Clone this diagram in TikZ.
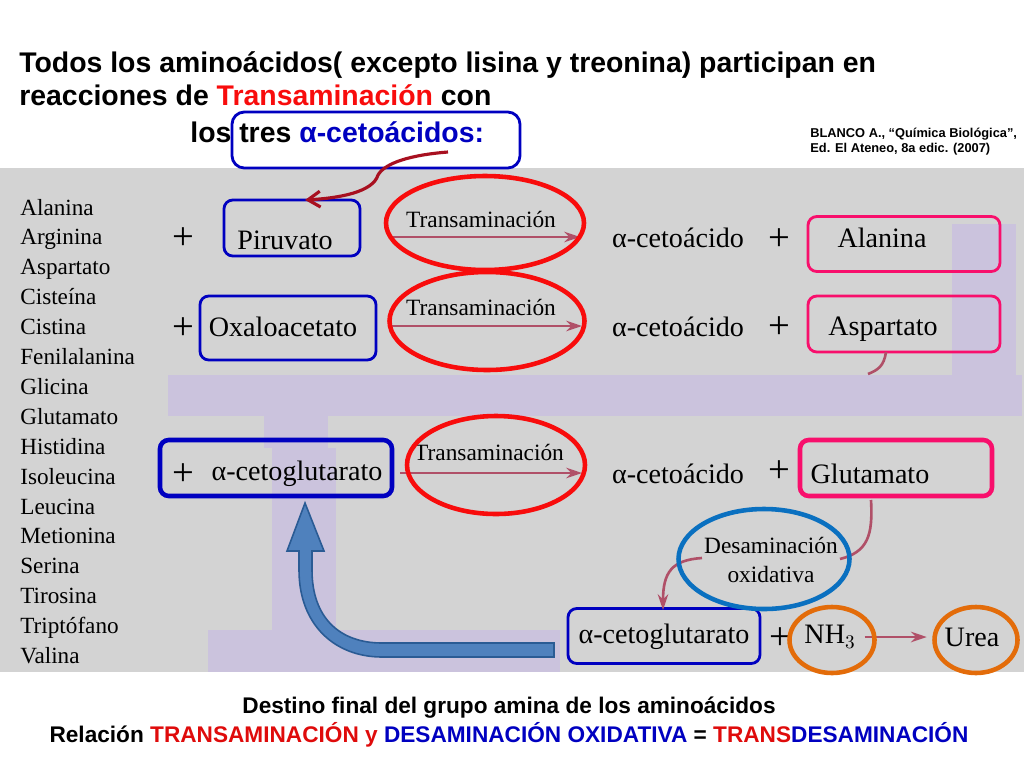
\documentclass[tikz,border=0pt]{standalone}
\usepackage{fontspec}
\setmainfont{Liberation Sans}
\newfontfamily\scanfont{Liberation Serif}
\usetikzlibrary{shapes.geometric,arrows.meta}
\definecolor{bandgray}{HTML}{D3D3D3}
\definecolor{lila}{HTML}{CBC3DD}
\definecolor{boxblue}{HTML}{0000C0}
\definecolor{rosa}{HTML}{F80F6C}
\definecolor{oval}{HTML}{F80C0C}
\definecolor{ovalblue}{HTML}{0A70C0}
\definecolor{ovalorange}{HTML}{E36C0A}
\definecolor{arrowred}{HTML}{A81020}
\definecolor{inkred}{HTML}{B05068}
\definecolor{fatblue}{HTML}{4F81BD}
\definecolor{fatedge}{HTML}{2A5B94}
\tikzset{
  headline/.style={font=\bfseries\fontsize{16.17}{19}\selectfont, anchor=base west, inner sep=0pt},
  footline/.style={font=\bfseries\fontsize{12.88}{15}\selectfont, anchor=base, inner sep=0pt},
  scan/.style={font=\scanfont\fontsize{16}{18}\selectfont, inner sep=0pt, text=black},
  small scan/.style={font=\scanfont\fontsize{13.3}{17}\selectfont, inner sep=0pt, text=black},
  plus/.style={font=\scanfont\fontsize{22}{24}\selectfont, inner sep=0pt, text=black},
  aminoname/.style={font=\scanfont\fontsize{13.2}{15}\selectfont, anchor=base west, inner sep=0pt, text=black},
  bluebox/.style={draw=boxblue, line width=1.6pt, rounded corners=5pt},
  rosebox/.style={draw=rosa, line width=1.6pt, rounded corners=5pt},
  redoval/.style={draw=oval, ellipse, line width=2.6pt, inner sep=0pt},
  inkline/.style={draw=inkred, line width=1.5pt, -{Stealth[length=9pt,width=6pt]}},
}
\begin{document}
\begin{tikzpicture}[x=0.02cm, y=-0.02cm]
\useasboundingbox (0,0) rectangle (1024,768);
% fondo
\fill[bandgray] (0,168) rectangle (1024,672);
\fill[lila] (952,224) rectangle (1016,375);
\fill[lila] (168,375) rectangle (1022,416);
\fill[lila] (264,416) rectangle (328,448);
\fill[lila] (272,448) rectangle (336,630);
\fill[lila] (208,630) rectangle (560,672);
% titulo
\node[headline] (linea1) at (19,72) {Todos los aminoácidos( excepto lisina y treonina) participan en};
\node[headline] (linea2) at (19,105) {reacciones de \textcolor{oval}{Transaminación} con};
\node[headline] (linea3) at (190,142) {los tres \textcolor{boxblue}{α-cetoácidos:}};
\node[anchor=base west, inner sep=0pt, align=left, font=\bfseries\fontsize{7.3}{8.5}\selectfont] (cita) at (810,152) {BLANCO A., “Química Biológica”,\\Ed. El Ateneo, 8a edic. (2007)};
\node[bluebox, rounded corners=7pt, inner sep=0pt, minimum width=288*0.02cm, minimum height=56*0.02cm] (cetobox) at (376,140) {};
% lista
\foreach \name [count=\i from 0] in {Alanina,Arginina,Aspartato,Cisteína,Cistina,Fenilalanina,Glicina,Glutamato,Histidina,Isoleucina,Leucina,Metionina,Serina,Tirosina,Triptófano,Valina}
{
    \node[aminoname] (amino\i) at (20,215+29.9*\i) {\name};
}
% columna izquierda
\node[plus] (mas1) at (183,239) {+};
\node[plus] (mas2) at (183,329) {+};
\node[plus] (mas3) at (183,475) {+};
\node[scan] (piruvato) at (285,240) {Piruvato};
\node[scan] (oxalo) at (283,327) {Oxaloacetato};
\node[bluebox, minimum width=136*0.02cm, minimum height=56*0.02cm] (piruvatobox) at (292,228) {};
\node[bluebox, minimum width=176*0.02cm, minimum height=64*0.02cm] (oxalobox) at (288,328) {};
\node[scan] (cetoglu) at (297,474) {α-cetoglutarato};
\node[bluebox, line width=2.6pt, minimum width=232*0.02cm, minimum height=56*0.02cm] (cetoglubox) at (276,468) {};
% transaminacion
\foreach \y/\tx/\ty/\ax/\bx/\ovx/\ovy/\ovw/\ovh [count=\i] in {237/481/219/390/580/485/223/198/94,326/481/307/390/582/487/321/195/98,473/489/452/400/582/496/465/178/98}
{
    \node[small scan] (trans\i) at (\tx,\ty) {Transaminación};
    \coordinate (ini\i) at (\ax,\y);
    \coordinate (fin\i) at (\bx,\y);
    \draw[inkline] (ini\i) -- (fin\i);
    \node[redoval, minimum width=\ovw*0.02cm, minimum height=\ovh*0.02cm] (oval\i) at (\ovx,\ovy) {};
    \node[scan] (ceto\i) at (678,\y+1) {α-cetoácido};
}
\node[plus] (masd1) at (779,240) {+};
\node[plus] (masd2) at (779,328) {+};
\node[plus] (masd3) at (779,472) {+};
% columna derecha
\node[scan] (alanina) at (882,238) {Alanina};
\node[scan] (aspartato) at (883,329) {Aspartato};
\node[scan] (glutamato) at (870,474) {Glutamato};
\node[rosebox, minimum width=192*0.02cm, minimum height=55*0.02cm] (alaninabox) at (904,244) {};
\node[rosebox, minimum width=192*0.02cm, minimum height=56*0.02cm] (aspartatobox) at (904,324) {};
\node[rosebox, line width=2.6pt, minimum width=192*0.02cm, minimum height=56*0.02cm] (glutamatobox) at (896,468) {};
% abajo
\node[small scan, align=center] (desa) at (771,560) {Desaminación\\oxidativa};
\node[scan] (cetoglub) at (664,637) {α-cetoglutarato};
\node[bluebox, minimum width=192*0.02cm, minimum height=55*0.02cm] (cetoglubbox) at (664,636) {};
\node[plus] (masb) at (780,639) {+};
\node[scan] (nh3) at (830,637) {NH$_3$};
\node[scan] (urea) at (972,637) {Urea};
% conectores
\coordinate (pie) at (871,500);
\coordinate (lado) at (840,559);
\coordinate (sale) at (702,558);
\coordinate (llega) at (663,610);
\coordinate (asp) at (886,352);
\coordinate (aspfin) at (868,374);
\draw[inkline, -] (asp) .. controls (884,366) and (878,370) .. (aspfin);
\draw[inkline, -] (pie) .. controls (873,535) and (868,552) .. (lado);
\draw[inkline] (sale) .. controls (672,560) and (663,572) .. (llega);
\draw[inkline, shorten >=10pt, shorten <=5pt] (nh3.east) -- (urea.west);
% ovalos de abajo
\node[redoval, draw=ovalblue, minimum width=171*0.02cm, minimum height=100*0.02cm] (desaoval) at (764,559) {};
\node[redoval, draw=ovalorange, minimum width=85*0.02cm, minimum height=66*0.02cm] (nhoval) at (832,640) {};
\node[redoval, draw=ovalorange, minimum width=83*0.02cm, minimum height=66*0.02cm] (ureaoval) at (976,640) {};
\coordinate (colaroja) at (448,152);
\coordinate (puntaroja) at (305,200);
\draw[draw=arrowred, line width=1.8pt, -{Straight Barb[length=7pt,width=9pt]}] (colaroja) .. controls (410,155) and (385,163) .. (378,175) .. controls (373,192) and (340,198) .. (puntaroja);
% flecha azul
\filldraw[fill=fatblue, draw=fatedge, line width=0.9pt] (554,643) -- (382,643) .. controls (340,643) and (312,618) .. (312,570) -- (312,551) -- (324,551) -- (305,503) -- (287,551) -- (299,551) -- (299,570) .. controls (299,625) and (335,657) .. (382,657) -- (554,657) -- cycle;
% pie
\node[footline] (pie1) at (509,713) {Destino final del grupo amina de los aminoácidos};
\node[footline] (pie2) at (509,742) {Relación \textcolor{oval!90!black}{TRANSAMINACIÓN y} \textcolor{boxblue}{DESAMINACIÓN OXIDATIVA} = \textcolor{oval!90!black}{TRANS}\textcolor{boxblue}{DESAMINACIÓN}};
\end{tikzpicture}
\end{document}
